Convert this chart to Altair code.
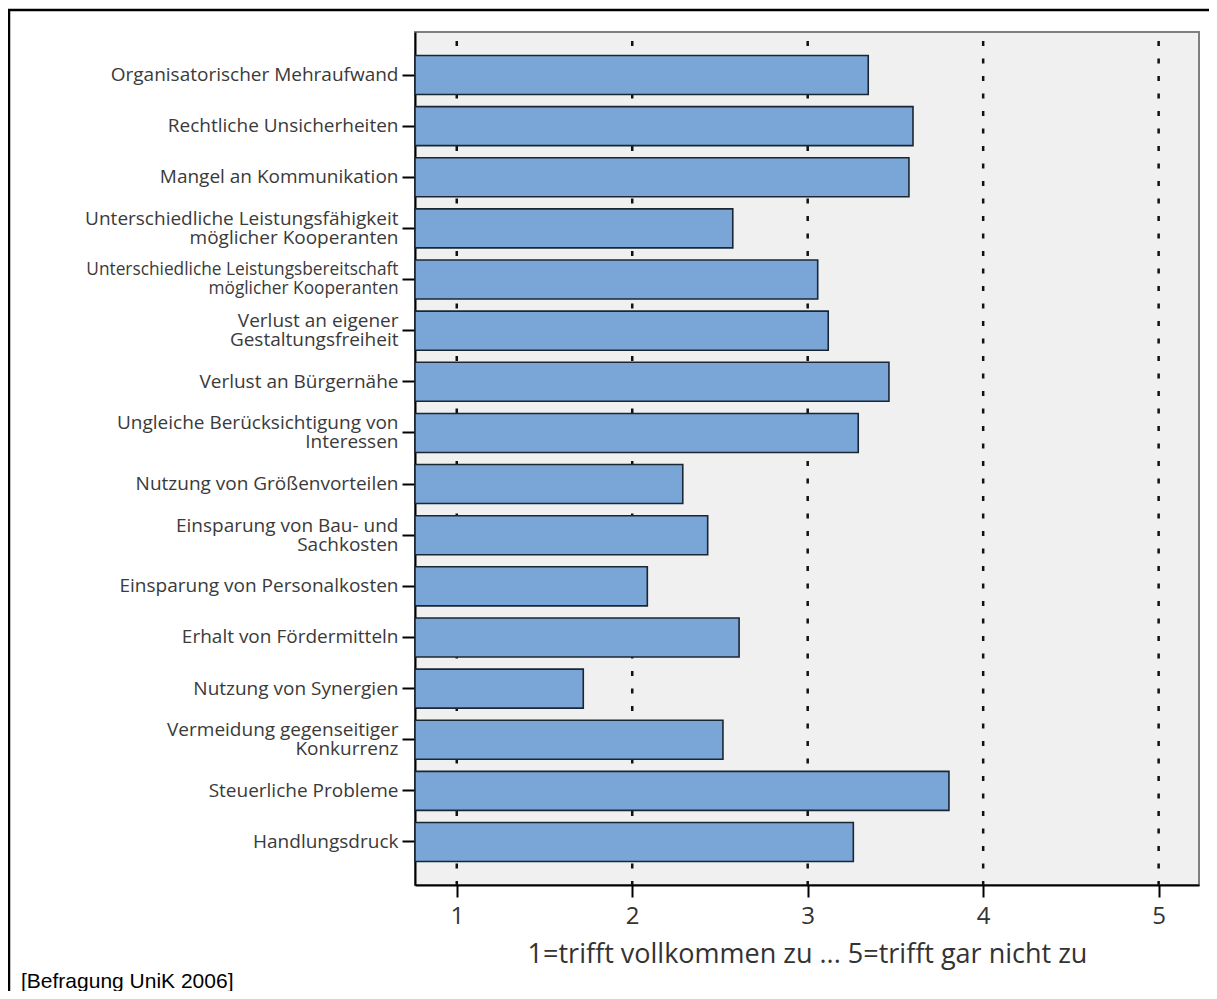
import altair as alt
import pandas as pd

# ---- data ----
categories = [
    "Organisatorischer Mehraufwand",
    "Rechtliche Unsicherheiten",
    "Mangel an Kommunikation",
    "Unterschiedliche Leistungsfähigkeit\nmöglicher Kooperanten",
    "Unterschiedliche Leistungsbereitschaft\nmöglicher Kooperanten",
    "Verlust an eigener\nGestaltungsfreiheit",
    "Verlust an Bürgernähe",
    "Ungleiche Berücksichtigung von\nInteressen",
    "Nutzung von Größenvorteilen",
    "Einsparung von Bau- und\nSachkosten",
    "Einsparung von Personalkosten",
    "Erhalt von Fördermitteln",
    "Nutzung von Synergien",
    "Vermeidung gegenseitiger\nKonkurrenz",
    "Steuerliche Probleme",
    "Handlungsdruck",
]
values = [3.345, 3.60, 3.577, 2.573, 3.057, 3.117, 3.463, 3.288,
          2.288, 2.43, 2.086, 2.609, 1.721, 2.517, 3.805, 3.26]
x_ticks = [1, 2, 3, 4, 5]
x_domain = [0.762, 5.23]
x_title = "1=trifft vollkommen zu ... 5=trifft gar nicht zu"
footer = "[Befragung UniK 2006]"

bars_df = pd.DataFrame({"item": categories, "value": values})
grid_df = pd.DataFrame({"tick": x_ticks})
one_df = pd.DataFrame({"a": [0]})

W, H = 784, 853
PAD = {"left": 407, "top": 24, "right": 10, "bottom": 106}

x_scale = alt.Scale(domain=x_domain, nice=False, zero=False)

grid = alt.Chart(grid_df).mark_rule(
    color="#111111", strokeWidth=2.5, strokeDash=[5, 12.5], strokeDashOffset=8.5
).encode(
    x=alt.X("tick:Q", scale=x_scale)
)

bars = alt.Chart(bars_df).mark_bar(
    fill="#79A6D7", stroke="#1B2633", strokeWidth=1.6
).encode(
    y=alt.Y(
        "item:N",
        sort=categories,
        scale=alt.Scale(paddingInner=0.237, paddingOuter=0.46),
        axis=alt.Axis(
            title=None,
            labelExpr="split(datum.label, '\\n')",
            labelFont="Open Sans",
            labelFontSize={
                "condition": {"test": "indexof(datum.label, 'Leistungsbereitschaft') >= 0", "value": 17.3},
                "value": 19,
            },
            labelOffset={
                "condition": {"test": "indexof(datum.label, '\\n') >= 0", "value": -9.5},
                "value": 0,
            },
            labelLineHeight=19,
            labelColor="#3a3a3a",
            labelLimit=400,
            labelPadding=4,
            tickSize=13,
            tickWidth=2,
            tickColor="#000000",
            domainColor="#000000",
            domainWidth=2,
            grid=False,
        ),
    ),
    x=alt.X(
        "value:Q",
        scale=x_scale,
        axis=alt.Axis(
            title=x_title,
            values=x_ticks,
            format="d",
            labelFont="Open Sans",
            labelFontSize=24,
            labelColor="#333333",
            labelPadding=7,
            tickSize=12,
            tickWidth=2,
            tickColor="#000000",
            domainColor="#000000",
            domainWidth=2,
            grid=False,
            titleFont="Open Sans",
            titleFontSize=27,
            titleFontWeight="normal",
            titleColor="#333333",
            titleBaseline="top",
            titleY=56,
        ),
    ),
    x2=alt.datum(x_domain[0]),
)

frame_top = alt.Chart(one_df).mark_rule(color="#000000", strokeWidth=2.5).encode(
    x=alt.value(-PAD["left"]), x2=alt.value(W + PAD["right"]), y=alt.value(-22)
)
frame_left = alt.Chart(one_df).mark_rule(color="#000000", strokeWidth=2.5).encode(
    x=alt.value(-PAD["left"] + 1), y=alt.value(-22), y2=alt.value(H + PAD["bottom"])
)
foot = alt.Chart(one_df).mark_text(
    align="left", baseline="alphabetic", font="Liberation Sans", fontSize=21, color="#000000"
).encode(
    x=alt.value(-394), y=alt.value(956), text=alt.value(footer)
)

chart = alt.layer(grid, bars, frame_top, frame_left, foot).properties(
    width=W,
    height=H,
    autosize=alt.AutoSizeParams(type="none"),
    padding=PAD,
    background="#ffffff",
).configure_view(
    fill="#F0F0F0", stroke="#7f7f7f", strokeWidth=2
)

chart.save("out.html", embed_options={"renderer": "svg", "actions": False})
